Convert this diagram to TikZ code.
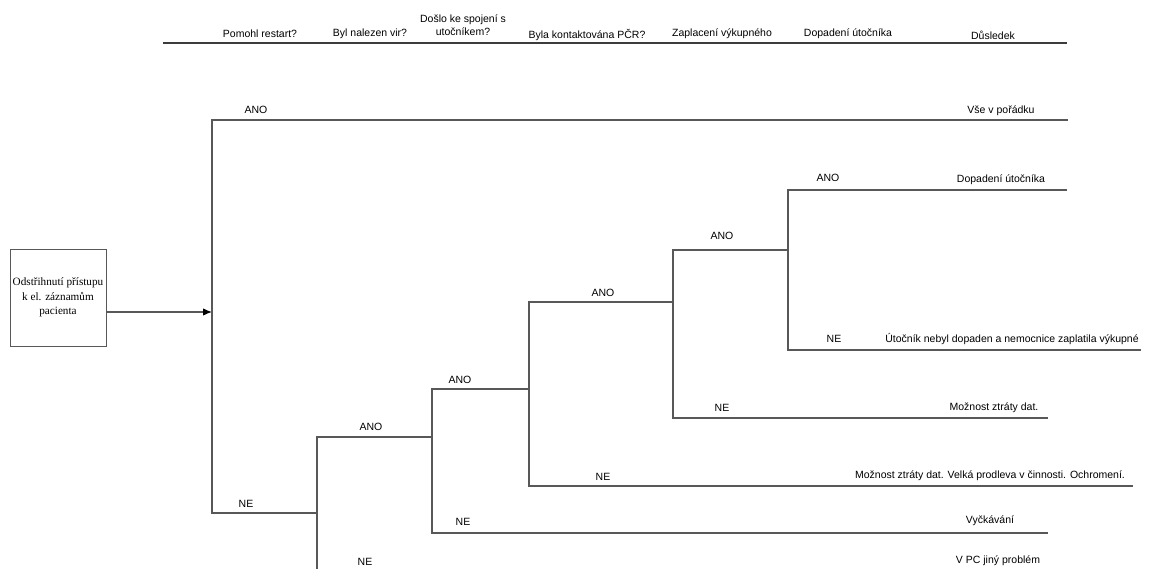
\documentclass[tikz,border=0pt]{standalone}
\usepackage{fontspec}
\setmainfont{Liberation Sans}
\newfontfamily\boxfont{Liberation Serif}
\usetikzlibrary{arrows.meta}
\definecolor{TreeGray}{RGB}{88,88,88}
\definecolor{HeadGray}{RGB}{60,60,60}
\begin{document}
\begin{tikzpicture}[x=1pt,y=-1pt,>={Latex[length=9pt,width=7.5pt,color=black]},
      lbl/.style={font=\fontsize{10.5}{13}\selectfont,inner sep=0pt,align=center},
      tree/.style={draw=TreeGray,line width=1.2pt},
      src/.style={draw=TreeGray,line width=0.9pt,minimum width=96pt,minimum height=97pt,inner sep=1pt,
                  align=center,font=\boxfont\fontsize{11.2}{14.5}\selectfont}]
    \useasboundingbox (0,0) rectangle (1149,569);
    \coordinate (h0) at (163,43); \coordinate (h1) at (1067,43);
    \draw[line width=1.4pt,draw=HeadGray] (h0) -- (h1);
    \foreach \n/\x/\y/\t in {q1/260/34/Pomohl restart?, q2/370/34/Byl nalezen vir?, q4/587/35/Byla kontaktována PČR?,
                             q5/722/34/Zaplacení výkupného, q6/848/34/Dopadení útočníka, q7/993/35/Důsledek}
      \node[lbl] (\n) at (\x,\y) {\t};
    \node[lbl] (q3) at (463,25) {Došlo ke spojení s\\utočníkem?};
    \node[src] (src) at (58,297.5) {Odstřihnutí přístupu\\k el. záznamům\\pacienta};
    \coordinate (j1) at (212,312); \coordinate (j2) at (317,513); \coordinate (j3) at (432,437);
    \coordinate (j4) at (529,389); \coordinate (j5) at (673,302); \coordinate (j6) at (788,250);
    \coordinate (b2) at (317,569);
    \coordinate (o1) at (1068,120); \coordinate (o3) at (1048,533); \coordinate (o4) at (1133,486);
    \coordinate (o5) at (1048,418); \coordinate (o6) at (1067,190); \coordinate (o7) at (1141,350);
    \draw[tree,->] (src.east |- j1) -- (j1);
    \draw[tree] (j1) |- (o1);
    \draw[tree] (j1) |- (j2);
    \draw[tree] (j2) |- (j3);
    \draw[tree] (j2) -- (b2);
    \draw[tree] (j3) |- (j4);
    \draw[tree] (j3) |- (o3);
    \draw[tree] (j4) |- (j5);
    \draw[tree] (j4) |- (o4);
    \draw[tree] (j5) |- (j6);
    \draw[tree] (j5) |- (o5);
    \draw[tree] (j6) |- (o6);
    \draw[tree] (j6) |- (o7);
    \foreach \n/\x/\y/\t in {a1/256/110/ANO, n1/246/504/NE, a2/371/427/ANO, n2/365/562/NE,
                             a3/460/380/ANO, n3/463/522/NE, a4/603/293/ANO, n4/603/477/NE,
                             a5/722/236/ANO, n5/722/408/NE, a6/828/178/ANO, n6/834/339/NE}
      \node[lbl] (\n) at (\x,\y) {\t};
    \node[lbl] (r1) at (1001,111) {Vše v pořádku};
    \node[lbl] (r6) at (1001,180) {Dopadení útočníka};
    \node[lbl] (r7) at (1012,339) {Útočník nebyl dopaden a nemocnice zaplatila výkupné};
    \node[lbl] (r5) at (994,408) {Možnost ztráty dat.};
    \node[lbl] (r4) at (990,476) {Možnost ztráty dat. Velká prodleva v činnosti. Ochromení.};
    \node[lbl] (r3) at (990,521) {Vyčkávání};
    \node[lbl] (r2) at (998,561) {V PC jiný problém};
  \end{tikzpicture}
\end{document}
